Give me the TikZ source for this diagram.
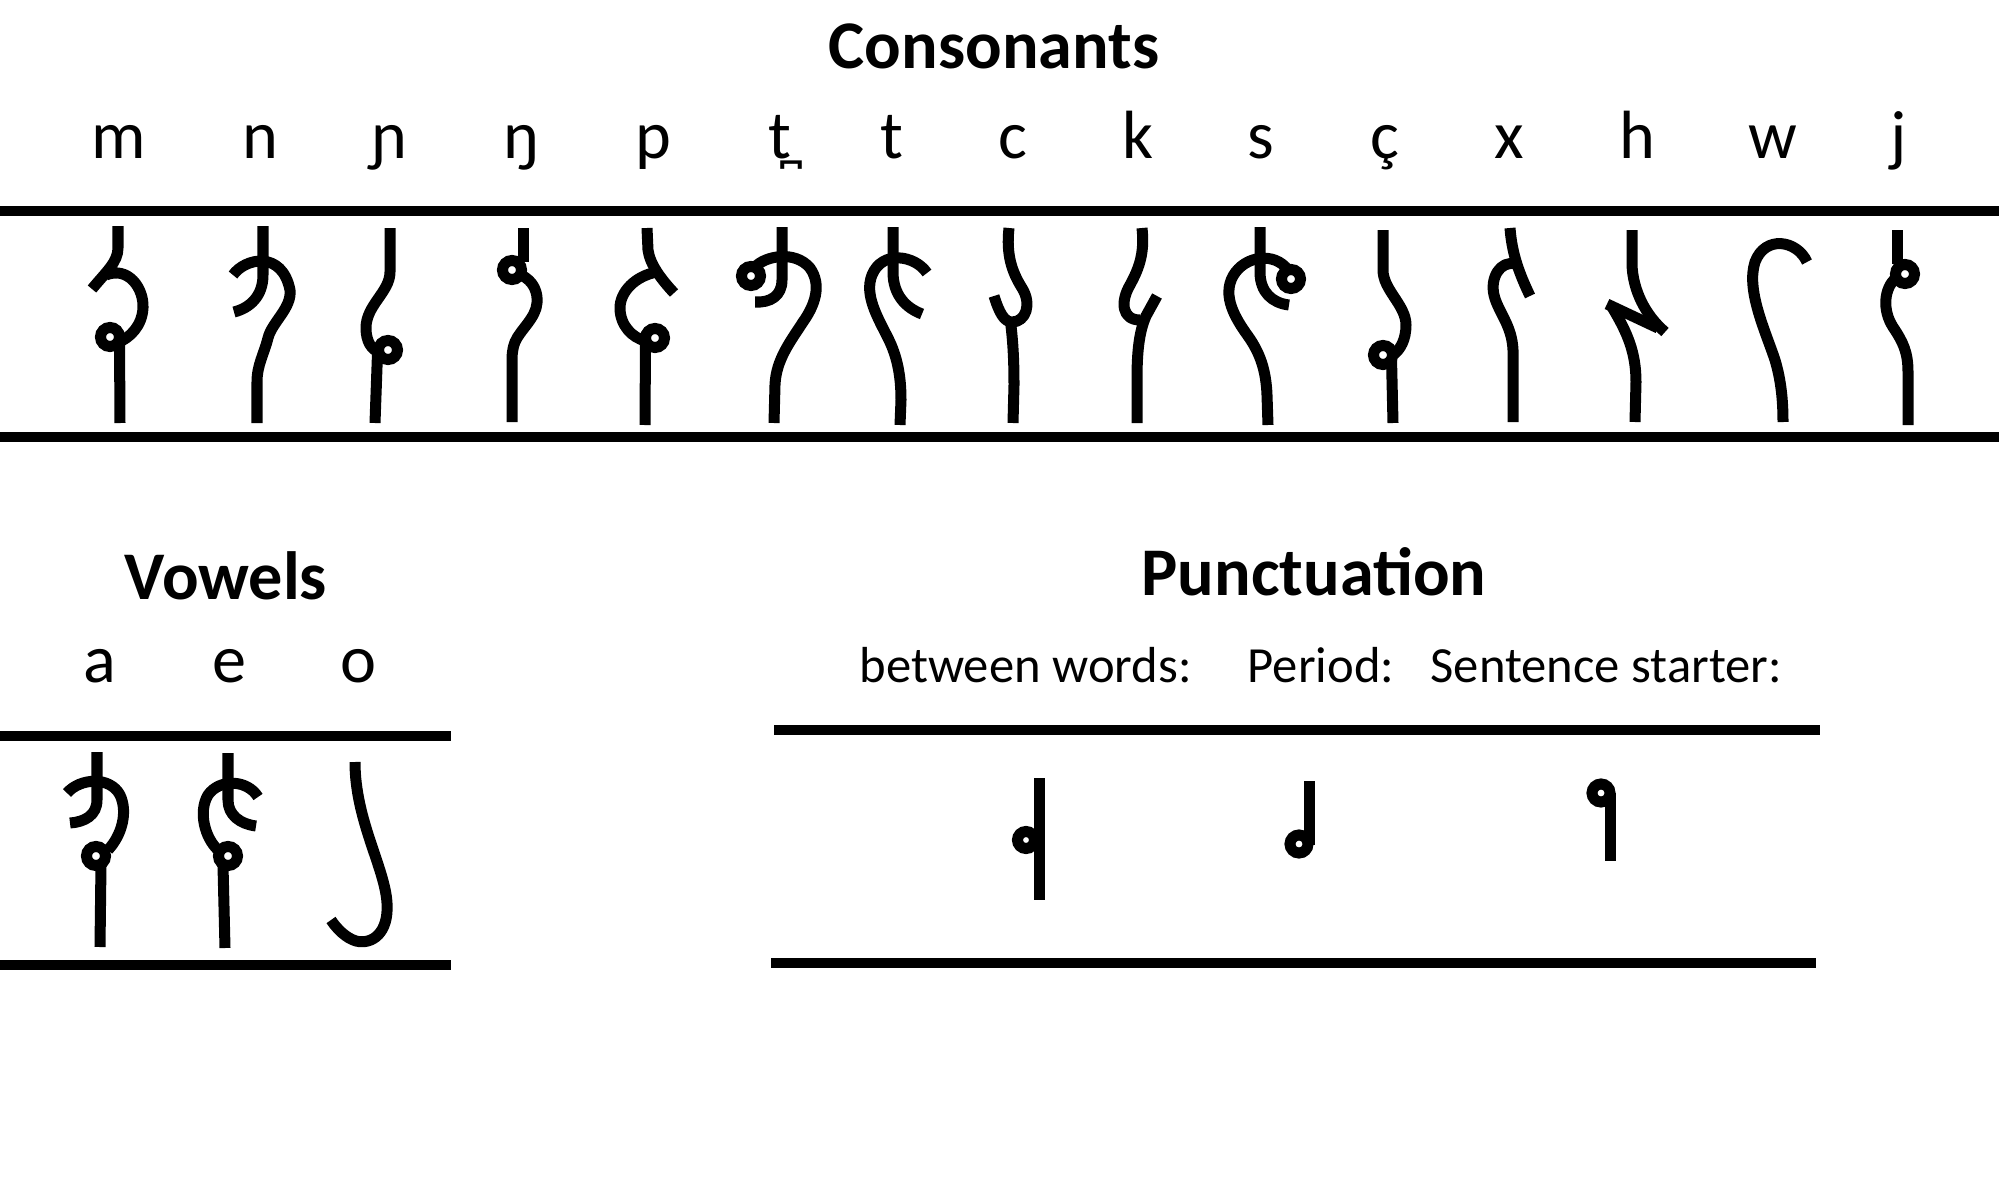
\documentclass[tikz,border=0pt]{standalone}
\usepackage{fontspec}
\setmainfont{Carlito}
\begin{document}
\begin{tikzpicture}[x=0.01cm,y=-0.01cm,
  glyph/.style={line width=1.1mm, line cap=butt, line join=round},
  ring/.style={line width=1.1mm},
  rule/.style={line width=1mm},
  head/.style={font=\fontsize{19.4}{23}\selectfont\bfseries, anchor=base, inner sep=0pt},
  lab/.style={font=\fontsize{19.4}{23}\selectfont, anchor=base, inner sep=0pt},
  ptext/.style={font=\fontsize{14.4}{17}\selectfont, anchor=base west, inner sep=0pt}]
\useasboundingbox[fill=white] (0,0) rectangle (1999,1200);

% ---------- headings ----------
\node[head] (tcons) at (994,68) {Consonants};
\node[head] (tvow) at (226,599) {Vowels};
\node[head] (tpunc) at (1314,595) {Punctuation};

% ---------- consonant labels ----------
\node[lab] (lm) at (119,158) {m};
\node[lab] (ln) at (260,158) {n};
\node[lab] (lnj) at (389,158) {ɲ};
\node[lab] (lng) at (521,158) {ŋ};
\node[lab] (lp) at (653,158) {p};
\node[lab] (ltd) at (780,158) {t̪};
\node[lab] (lt) at (892,158) {t};
\node[lab] (lc) at (1013,158) {c};
\node[lab] (lk) at (1138,158) {k};
\node[lab] (ls) at (1261,158) {s};
\node[lab] (lcc) at (1385,158) {ç};
\node[lab] (lx) at (1509,158) {x};
\node[lab] (lh) at (1637,158) {h};
\node[lab] (lw) at (1773,158) {w};
\node[lab] (lj) at (1899,158) {j};

% ---------- vowel labels ----------
\node[lab] (la) at (100,682) {a};
\node[lab] (le) at (229,682) {e};
\node[lab] (lo) at (358,682) {o};

% ---------- punctuation labels ----------
\node[ptext] (pbw) at (859,682) {between words:};
\node[ptext] (pper) at (1247,682) {Period:};
\node[ptext] (pss) at (1430,682) {Sentence starter:};

% ---------- rules ----------
\draw[rule] (0,211) -- (1999,211);
\draw[rule] (0,437) -- (1999,437);
\draw[rule] (0,736) -- (451,736);
\draw[rule] (0,965) -- (451,965);
\draw[rule] (774,730) -- (1820,730);
\draw[rule] (771,963) -- (1816,963);

% ---------- consonants ----------
% m
\draw[glyph] (118,226) -- (118,248) .. controls (118,262) and (106,272) .. (92,289);
\draw[glyph] (106,275) .. controls (128,266) and (144,288) .. (143,308) .. controls (142,326) and (130,338) .. (117,343);
\draw[ring] (110,337) circle[radius=0.95mm];
\draw[glyph] (119.5,340) -- (120,423);
% n
\draw[glyph] (263,226) -- (263,275) .. controls (263,296) and (250,308) .. (234,312);
\draw[glyph] (233,275) .. controls (245,258) and (282,250) .. (290,290) .. controls (292,308) and (272,322) .. (268,338) .. controls (264,354) and (257,365) .. (257,382) -- (257,423);
% nj
\draw[glyph] (390,228) -- (390,272) .. controls (390,292) and (366,305) .. (366,328) .. controls (366,342) and (372,350) .. (379,352);
\draw[ring] (388,350) circle[radius=0.95mm];
\draw[glyph] (377.5,353) -- (375,423);
% ng
\draw[glyph] (523,228) -- (523,262);
\draw[ring] (512,270) circle[radius=0.95mm];
\draw[glyph] (521,275) .. controls (534,281) and (538,293) .. (537,303) .. controls (536,318) and (520,330) .. (515,342) .. controls (512,350) and (512,355) .. (512,365) -- (512,422);
% p
\draw[glyph] (647,228) -- (648,250) .. controls (650,265) and (662,280) .. (674,293);
\draw[glyph] (657,272) .. controls (635,276) and (620,292) .. (620,308) .. controls (620,325) and (632,338) .. (646,341);
\draw[ring] (655,338) circle[radius=0.95mm];
\draw[glyph] (645.5,341) -- (645,425);
% t dental
\draw[glyph] (782,227) -- (782,280) .. controls (782,296) and (770,303) .. (755,302);
\draw[ring] (751,276) circle[radius=0.95mm];
\draw[glyph] (755,267) .. controls (765,256) and (795,250) .. (810,268) .. controls (822,285) and (815,305) .. (803,322) .. controls (790,342) and (776,360) .. (775,385) -- (774,423);
% t
\draw[glyph] (893,227) -- (893,272) .. controls (893,295) and (906,308) .. (922,314);
\draw[glyph] (927,273) .. controls (915,255) and (882,250) .. (872,275) .. controls (864,295) and (878,318) .. (888,338) .. controls (897,356) and (901,375) .. (901,400) -- (900,425);
% c
\draw[glyph] (1009,228) .. controls (1006,255) and (1012,272) .. (1022,288) .. controls (1032,304) and (1026,322) .. (1012,322) .. controls (1004,322) and (999,312) .. (994,296);
\draw[glyph] (1010,318) .. controls (1013,340) and (1014,360) .. (1014,385) -- (1013,423);
% k
\draw[glyph] (1142,228) .. controls (1145,255) and (1138,270) .. (1130,285) .. controls (1120,302) and (1122,320) .. (1140,320);
\draw[glyph] (1157,296) -- (1146,316) .. controls (1139,332) and (1137,352) .. (1137,380) -- (1137,423);
% s
\draw[glyph] (1260,227) -- (1260,272) .. controls (1260,292) and (1272,303) .. (1289,305);
\draw[ring] (1291,279) circle[radius=0.95mm];
\draw[glyph] (1288,270) .. controls (1275,252) and (1245,255) .. (1233,276) .. controls (1222,296) and (1235,318) .. (1248,336) .. controls (1260,353) and (1266,370) .. (1267,395) -- (1268,425);
% c cedilla
\draw[glyph] (1383,230) -- (1383,270) .. controls (1383,290) and (1406,305) .. (1406,325) .. controls (1406,340) and (1400,350) .. (1393,355);
\draw[ring] (1383,355) circle[radius=0.95mm];
\draw[glyph] (1391.5,358) -- (1393,423);
% x
\draw[glyph] (1510,228) .. controls (1512,255) and (1520,275) .. (1530,296);
\draw[glyph] (1516,264) .. controls (1500,260) and (1490,278) .. (1494,295) .. controls (1498,312) and (1512,325) .. (1513,350) -- (1513,422);
% h
\draw[glyph] (1632,230) -- (1632,265) .. controls (1633,290) and (1645,315) .. (1665,332);
\draw[glyph] (1607,304) -- (1658,328);
\draw[glyph] (1612,307) .. controls (1627,332) and (1636,352) .. (1636,382) -- (1635,422);
% w
\draw[glyph] (1807,262) .. controls (1797,240) and (1765,235) .. (1755,262) .. controls (1746,290) and (1765,330) .. (1775,360) .. controls (1781,380) and (1783,400) .. (1783,422);
% j
\draw[glyph] (1897,230) -- (1897,264);
\draw[ring] (1905,274) circle[radius=0.95mm];
\draw[glyph] (1896,278) .. controls (1884,288) and (1882,310) .. (1893,327) .. controls (1903,342) and (1908,352) .. (1908,372) -- (1908,425);

% ---------- vowels ----------
% a
\draw[glyph] (97,752) -- (97,800) .. controls (97,815) and (85,822) .. (70,823);
\draw[glyph] (67,793) .. controls (80,778) and (110,776) .. (120,795) .. controls (128,812) and (122,835) .. (108,850);
\draw[ring] (96,856) circle[radius=0.95mm];
\draw[glyph] (101,864) -- (100,947);
% e
\draw[glyph] (228,753) -- (228,800) .. controls (228,815) and (240,824) .. (256,826);
\draw[glyph] (258,797) .. controls (248,780) and (220,778) .. (208,795) .. controls (198,812) and (205,838) .. (218,850);
\draw[ring] (228,856) circle[radius=0.95mm];
\draw[glyph] (223,865) -- (225,948);
% o
\draw[glyph] (355,762) .. controls (355,820) and (385,868) .. (387,903) .. controls (389,933) and (372,945) .. (356,941) .. controls (346,938) and (337,929) .. (331,920);

% ---------- punctuation ----------
\draw[glyph] (1039,778) -- (1039,900);
\draw[ring] (1026,840) circle[radius=0.85mm];
\draw[glyph] (1309,781) -- (1309,845);
\draw[ring] (1299,844) circle[radius=0.9mm];
\draw[glyph] (1610,793) -- (1610,861);
\draw[ring] (1601,793) circle[radius=0.9mm];
\end{tikzpicture}
\end{document}
